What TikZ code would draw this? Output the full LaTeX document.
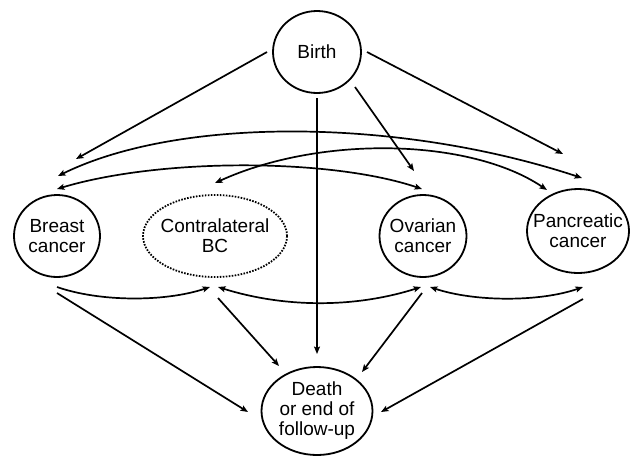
\documentclass[tikz,border=0pt]{standalone}
\usepackage{fontspec}
\setmainfont{Liberation Sans}
\usetikzlibrary{shapes.geometric,arrows.meta,calc}
\newcommand{\zeroline}[1]{\makebox[0pt]{#1}}
\begin{document}
\begin{tikzpicture}[x=1pt,y=-1pt,
  state/.style={ellipse, draw, line width=1.8pt, inner sep=0pt, align=center,
    font=\fontsize{19}{20}\selectfont},
  tip/.tip={Stealth[length=7.5pt,width=6pt,inset=1.5pt]},
  conn/.style={line width=1.7pt, -tip},
  both/.style={line width=1.7pt, tip-tip}]
\useasboundingbox (0,0) rectangle (634,456);

\node[state, minimum width=88pt, minimum height=82pt] (birth) at (317,52) {\zeroline{Birth}};
\node[state, minimum width=86pt, minimum height=82pt] (breast) at (57,236) {\zeroline{Breast}\\\zeroline{cancer}};
\node[state, dash pattern=on 1.6pt off 1.4pt, minimum width=144pt, minimum height=82pt] (contra) at (215,236) {\zeroline{Contralateral}\\\zeroline{BC}};
\node[state, minimum width=87pt, minimum height=82pt] (ovarian) at (423,236) {\zeroline{Ovarian}\\\zeroline{cancer}};
\node[state, minimum width=102pt, minimum height=84pt] (pancreatic) at (578,231) {\zeroline{Pancreatic}\\\zeroline{cancer}};
\node[state, minimum width=111pt, minimum height=88pt] (death) at (317,411) {\zeroline{Death}\\\zeroline{or end of}\\\zeroline{follow-up}};

% from birth
\draw[conn] ($(birth)+(-50,0)$) -- ($(breast)+(19,-77)$);
\draw[conn] ($(birth)+(50,0)$) -- ($(pancreatic)+(-15,-77)$);
\draw[conn] ($(birth)+(38,35)$) -- ($(ovarian)+(-9,-65)$);
\draw[conn] ($(birth)+(0,46)$) -- ($(death)+(0,-57)$);

% upper curved double arrows
\draw[both] ($(breast)+(1,-60)$) .. controls (180,116) and (400,118) .. ($(pancreatic)+(4,-53)$);
\draw[both] ($(breast)+(0,-47)$) .. controls (160,158) and (330,158) .. ($(ovarian)+(-1,-47)$);
\draw[both] ($(contra)+(0,-53)$) .. controls (320,135) and (470,138) .. ($(pancreatic)+(-31,-41)$);

% lower curved arrows
\draw[conn] ($(breast)+(0,51)$) .. controls (100,302) and (165,302) .. ($(contra)+(-5,51)$);
\draw[both] ($(contra)+(3,51)$) .. controls (285,308) and (355,308) .. ($(ovarian)+(-2,51)$);
\draw[both] ($(ovarian)+(7,51)$) .. controls (475,302) and (540,302) .. ($(pancreatic)+(5,56)$);

% to death
\draw[conn] ($(breast)+(0,57)$) -- ($(death)+(-69,1)$);
\draw[conn] ($(contra)+(3,62)$) -- ($(death)+(-38,-45)$);
\draw[conn] ($(ovarian)+(-1,57)$) -- ($(death)+(45,-39)$);
\draw[conn] ($(pancreatic)+(5,68)$) -- ($(death)+(64,1)$);
\end{tikzpicture}
\end{document}
